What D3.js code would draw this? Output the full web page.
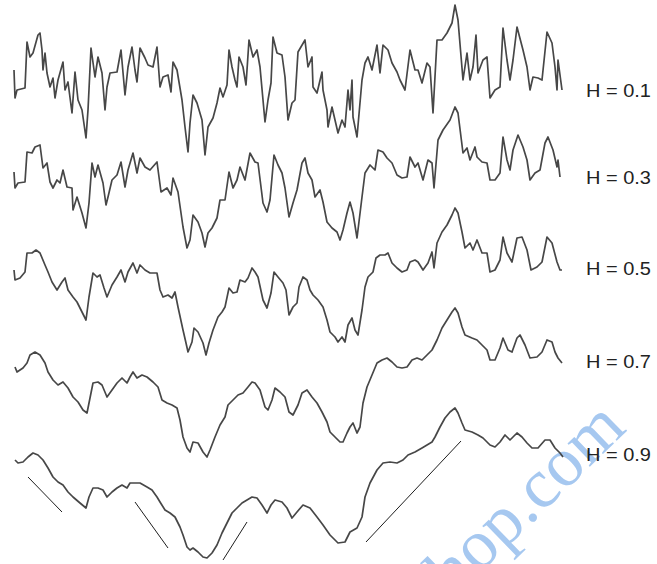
<!DOCTYPE html>
<html>
<head>
<meta charset="utf-8">
<script src="https://cdn.jsdelivr.net/npm/d3@7"></script>
<style>
  html, body { margin: 0; padding: 0; background: #fff; }
  svg { display: block; }
  .trace { fill: none; stroke: #474747; stroke-width: 1.7; stroke-linejoin: round; }
  .slope { stroke: #1e1e1e; stroke-width: 1; }
  .label { font-family: "Liberation Sans", Arial, sans-serif; font-size: 18px; fill: #222; }
  .mark { font-family: "Liberation Serif", "Times New Roman", serif; font-size: 70px; fill: #a6c8f0; }
</style>
</head>
<body>
<div id="chart"></div>
<script>
// Hurst exponents, one trace per row (top to bottom)
const hurst = [0.1, 0.3, 0.5, 0.7, 0.9];

// Each trace: [time step, level]
const traceH01 = [[0,21],[1,-7],[3,1],[11,3],[13,49],[16,34],[19,38],[24,56],[26,58],[28,41],[29,21],[31,38],[33,18],[36,4],[39,13],[41,-7],[44,11],[49,29],[51,1],[54,9],[58,-22],[61,19],[64,-9],[68,-19],[72,-47],[74,-19],[77,43],[81,14],[84,34],[88,18],[91,-19],[93,4],[96,18],[103,19],[107,41],[111,-4],[114,24],[118,44],[121,21],[123,9],[126,43],[131,33],[134,26],[139,24],[143,44],[146,4],[149,14],[154,16],[157,-1],[159,29],[163,21],[168,-9],[171,-36],[174,-61],[176,-32],[179,-4],[183,-12],[188,-29],[191,-64],[194,-36],[199,-27],[203,-12],[206,3],[209,-6],[213,6],[215,41],[218,24],[221,11],[223,4],[225,34],[229,24],[232,6],[235,51],[239,34],[243,41],[246,24],[251,-31],[254,-9],[257,8],[259,54],[263,38],[268,36],[271,14],[274,-29],[278,-12],[281,-9],[284,39],[291,51],[294,24],[298,34],[299,4],[303,-2],[308,19],[309,1],[313,-19],[314,-36],[318,-16],[321,-29],[324,-42],[328,-29],[331,-36],[334,1],[336,-19],[338,11],[339,-26],[343,-46],[348,11],[351,28],[354,34],[358,21],[363,46],[366,18],[369,46],[374,41],[378,28],[383,19],[386,11],[391,1],[396,41],[401,21],[404,21],[408,8],[413,28],[416,24],[419,-22],[423,51],[428,51],[433,58],[438,68],[441,86],[444,71],[449,11],[453,38],[456,11],[459,24],[462,56],[464,18],[469,31],[473,34],[476,-7],[481,1],[486,4],[489,63],[493,31],[496,11],[499,31],[503,64],[509,41],[513,24],[516,1],[519,14],[524,13],[528,11],[533,59],[538,48],[541,24],[543,1],[544,31],[548,1]];

const traceH03 = [[0,6],[1,-10],[4,-5],[11,-4],[13,26],[18,25],[21,31],[26,33],[29,10],[33,15],[36,-4],[39,-10],[43,-2],[46,-5],[49,8],[53,-9],[58,-10],[59,-32],[63,-19],[68,-35],[72,-50],[75,-25],[78,15],[81,1],[84,13],[89,-5],[92,-27],[94,-19],[98,-2],[103,3],[107,16],[111,-9],[114,8],[119,25],[123,5],[126,20],[131,11],[136,8],[143,16],[147,-14],[153,-10],[157,-17],[159,0],[164,-14],[169,-49],[173,-70],[176,-62],[179,-37],[184,-44],[188,-55],[191,-69],[194,-55],[198,-50],[203,-40],[206,-22],[211,-22],[215,6],[219,-10],[223,-2],[226,11],[231,-2],[236,25],[241,16],[244,15],[249,-25],[253,-34],[256,-22],[260,23],[264,13],[268,5],[271,-10],[275,-39],[279,-25],[283,-12],[288,15],[291,20],[294,5],[298,-2],[301,-19],[306,-12],[309,-24],[313,-44],[318,-50],[323,-54],[326,-62],[329,-52],[333,-35],[336,-24],[339,-35],[343,-60],[348,-19],[351,5],[356,13],[361,8],[364,28],[369,26],[373,20],[378,15],[383,3],[388,0],[393,1],[396,21],[401,11],[404,15],[409,-2],[414,18],[418,15],[420,-10],[424,38],[429,48],[436,58],[441,71],[444,65],[449,25],[453,30],[456,18],[461,31],[463,21],[468,16],[473,15],[476,-2],[481,-2],[486,5],[489,41],[493,18],[496,8],[499,28],[504,43],[509,31],[513,18],[516,-2],[521,5],[526,8],[531,35],[534,41],[539,28],[543,11],[544,18],[546,1]];

const traceH05 = [[0,-1],[1,-11],[6,-9],[11,-3],[13,16],[18,16],[22,19],[26,16],[31,4],[34,-3],[38,-13],[43,-21],[48,-13],[51,-9],[54,-21],[59,-28],[63,-33],[68,-43],[72,-51],[75,-28],[79,-4],[83,-8],[86,-6],[90,-19],[93,-28],[98,-16],[103,-8],[107,-1],[111,-13],[114,-3],[119,6],[123,-4],[126,4],[131,-1],[136,-4],[143,-4],[146,-21],[149,-28],[154,-26],[158,-29],[161,-23],[164,-38],[169,-61],[172,-74],[174,-83],[178,-73],[180,-59],[184,-63],[189,-74],[192,-86],[195,-74],[199,-61],[204,-48],[208,-43],[211,-38],[215,-19],[219,-24],[223,-23],[226,-11],[231,-13],[234,-9],[238,1],[241,-3],[244,-8],[249,-31],[253,-39],[257,-24],[260,-3],[264,-8],[269,-14],[272,-21],[275,-46],[279,-38],[283,-34],[285,-18],[289,-8],[293,-11],[296,-21],[299,-26],[304,-31],[309,-38],[313,-51],[316,-63],[321,-68],[324,-73],[328,-68],[331,-73],[334,-56],[338,-49],[341,-61],[344,-66],[348,-41],[351,-18],[354,-8],[359,-3],[362,11],[366,14],[371,14],[374,16],[378,6],[383,1],[388,-3],[393,-1],[396,7],[401,9],[404,7],[409,-1],[414,6],[418,17],[420,1],[423,26],[428,37],[433,44],[438,54],[441,61],[444,56],[448,37],[451,21],[456,26],[459,19],[463,29],[468,16],[473,16],[476,-3],[481,-1],[486,9],[489,32],[493,16],[498,7],[503,31],[508,32],[513,19],[517,-1],[523,2],[528,7],[533,32],[538,26],[543,7],[546,-1],[548,-1]];

const traceH07 = [[1,-5],[3,-10],[9,-6],[13,-1],[16,7],[21,10],[26,7],[31,-1],[34,-10],[39,-18],[44,-23],[49,-20],[54,-26],[59,-35],[64,-40],[69,-48],[73,-51],[76,-36],[79,-21],[84,-20],[88,-23],[93,-35],[98,-28],[103,-21],[108,-16],[113,-21],[116,-15],[119,-10],[123,-16],[128,-13],[133,-15],[139,-20],[144,-25],[148,-38],[153,-41],[158,-43],[163,-46],[166,-58],[169,-75],[173,-86],[176,-90],[179,-80],[184,-81],[189,-90],[193,-95],[196,-88],[201,-75],[206,-63],[211,-55],[214,-43],[219,-38],[224,-33],[229,-31],[234,-25],[238,-20],[241,-21],[246,-28],[251,-45],[254,-48],[258,-38],[261,-26],[266,-30],[271,-35],[275,-50],[279,-53],[284,-43],[288,-31],[293,-28],[298,-35],[303,-41],[308,-50],[313,-60],[316,-70],[321,-75],[326,-80],[329,-80],[333,-71],[336,-65],[339,-61],[343,-71],[346,-65],[349,-41],[353,-25],[358,-13],[363,-1],[368,2],[373,4],[378,0],[383,-5],[388,-6],[393,-5],[398,2],[403,4],[408,2],[413,7],[418,12],[423,22],[428,34],[433,42],[438,50],[441,54],[444,49],[448,35],[451,27],[458,24],[463,22],[468,17],[473,12],[476,2],[481,2],[486,14],[489,24],[494,12],[498,10],[503,24],[506,27],[511,17],[516,4],[523,5],[528,10],[533,22],[538,20],[541,10],[544,4],[548,-1]];

const traceH09 = [[1,-5],[4,-8],[9,-7],[14,-2],[19,2],[24,0],[29,-5],[34,-13],[39,-22],[44,-27],[49,-30],[54,-37],[59,-42],[66,-48],[72,-53],[75,-42],[79,-33],[84,-33],[89,-35],[93,-42],[98,-37],[103,-33],[108,-30],[113,-33],[116,-28],[121,-28],[126,-28],[133,-32],[138,-35],[143,-42],[146,-47],[151,-55],[156,-58],[161,-62],[166,-72],[169,-80],[173,-92],[176,-95],[179,-93],[184,-97],[189,-102],[193,-103],[198,-98],[203,-90],[208,-78],[213,-68],[218,-58],[223,-53],[228,-48],[233,-45],[238,-42],[243,-43],[248,-50],[253,-58],[257,-50],[261,-45],[268,-47],[273,-53],[278,-63],[283,-57],[289,-50],[296,-53],[303,-62],[309,-70],[316,-80],[324,-88],[331,-87],[336,-77],[343,-73],[348,-62],[351,-42],[356,-28],[363,-15],[369,-8],[376,-7],[383,-8],[389,-5],[394,0],[401,3],[408,7],[413,10],[418,13],[421,18],[426,28],[431,37],[436,43],[441,47],[444,42],[448,32],[451,25],[458,23],[464,20],[469,17],[476,10],[481,8],[486,13],[491,20],[496,15],[503,22],[508,18],[513,12],[518,7],[524,7],[531,15],[536,15],[541,7],[546,2],[549,-2]];

const traces = [traceH01, traceH03, traceH05, traceH07, traceH09];

// Slope guide segments drawn under the H = 0.9 trace: [[t0, v0], [t1, v1]]
const slopeSegments = [
  [[14, -22], [48, -57]],
  [[121, -47], [154, -93]],
  [[209, -105], [233, -67]],
  [[352, -87], [447, 14]]
];

const labels = hurst.map((h) => `H = ${h}`);

const width = 657;
const height = 564;
const rowCenters = [91, 178, 269, 362, 455];

const svg = d3.select("#chart").append("svg")
  .attr("width", width)
  .attr("height", height);

const x = d3.scaleLinear().domain([0, 548]).range([14, 562]);

// One vertical scale per row, sharing the same unit size
const rowScale = (i) => d3.scaleLinear()
  .domain([-100, 100])
  .range([rowCenters[i] + 100, rowCenters[i] - 100]);

// Watermark sits behind the traces
svg.append("text")
  .attr("class", "mark")
  .attr("text-anchor", "end")
  .attr("transform", "translate(628,430) rotate(-44)")
  .text("hop.com");

traces.forEach((data, i) => {
  const y = rowScale(i);
  const line = d3.line().x((d) => x(d[0])).y((d) => y(d[1]));

  svg.append("path")
    .datum(data)
    .attr("class", "trace")
    .attr("d", line);

  svg.append("text")
    .attr("class", "label")
    .attr("x", 586)
    .attr("y", rowCenters[i] + 6)
    .attr("textLength", 65)
    .attr("lengthAdjust", "spacingAndGlyphs")
    .text(labels[i]);
});

const yLast = rowScale(traces.length - 1);
svg.append("g")
  .selectAll("line")
  .data(slopeSegments)
  .join("line")
  .attr("class", "slope")
  .attr("x1", (d) => x(d[0][0]))
  .attr("y1", (d) => yLast(d[0][1]))
  .attr("x2", (d) => x(d[1][0]))
  .attr("y2", (d) => yLast(d[1][1]));
</script>
</body>
</html>
